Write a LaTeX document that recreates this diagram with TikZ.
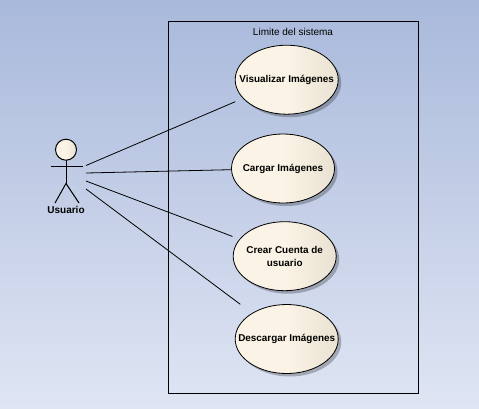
\documentclass[tikz,border=0pt]{standalone}
\usepackage{fontspec}
\setmainfont{Liberation Sans}
\usetikzlibrary{shadows,shapes.geometric}
\definecolor{bgtop}{HTML}{A9B9DB}
\definecolor{bgbottom}{HTML}{DFE5F3}
\definecolor{casel}{HTML}{FBF3E5}
\definecolor{caser}{HTML}{E9E1D2}
\tikzset{
  usecase/.style={ellipse, draw=black, line width=0.8pt, minimum width=103pt, minimum height=69pt,
    inner sep=-20pt, outer sep=0pt, left color=casel, right color=caser, middle color=casel,
    drop shadow={shadow xshift=3pt, shadow yshift=-3pt, fill=black, opacity=0.25},
    align=center, font=\fontsize{9.9}{13}\selectfont\bfseries},
  assoc/.style={draw=black, line width=0.8pt},
  limb/.style={draw=black, line width=1pt}
}

\begin{document}
\begin{tikzpicture}[x=1pt, y=-1pt]

\shade[top color=bgtop, bottom color=bgbottom] (0,0) rectangle (479,408);
\useasboundingbox (0,0) rectangle (479,408);

\draw[line width=1pt] (168.5,21.5) rectangle (418.5,393.5);
\node[inner sep=0pt, font=\fontsize{10}{11}\selectfont] (limite) at (293,31.5) {Limite del sistema};

\node[usecase] (visualizar) at (286.7,79.7) {Visualizar Imágenes};
\node[usecase] (cargar) at (283,168.5) {Cargar Imágenes};
\node[usecase] (crear) at (284.7,256.2) {Crear Cuenta de\\usuario};
\node[usecase] (descargar) at (286.7,339) {Descargar Imágenes};

% actor
\node[circle, draw=black, line width=1pt, minimum size=21pt, inner sep=0pt, outer sep=0pt,
  left color=casel, right color=caser, middle color=casel] (head) at (66,149.7) {};
\coordinate (hombroL) at (51,166.3);
\coordinate (hombroR) at (83,166.3);
\coordinate (cadera) at (66,183.5);
\coordinate (pieL) at (55,203);
\coordinate (pieR) at (79,203);
\draw[limb] (head) -- (cadera);
\draw[limb] (hombroL) -- (hombroR);
\draw[limb] (pieL) -- (cadera) -- (pieR);
\node[inner sep=0pt, font=\fontsize{10}{11}\selectfont\bfseries] (usuario) at (66,209.5) {Usuario};

\coordinate (a) at (86,165.5);
\coordinate (b) at (86,173);
\coordinate (c) at (86,181);
\coordinate (d) at (86,189);

\draw[assoc, shorten >=8.7pt] (a) -- (visualizar);
\draw[assoc] (b) -- (cargar);
\draw[assoc, shorten >=8pt] (c) -- (crear);
\draw[assoc, shorten >=15pt] (d) -- (descargar);

\end{tikzpicture}
\end{document}
